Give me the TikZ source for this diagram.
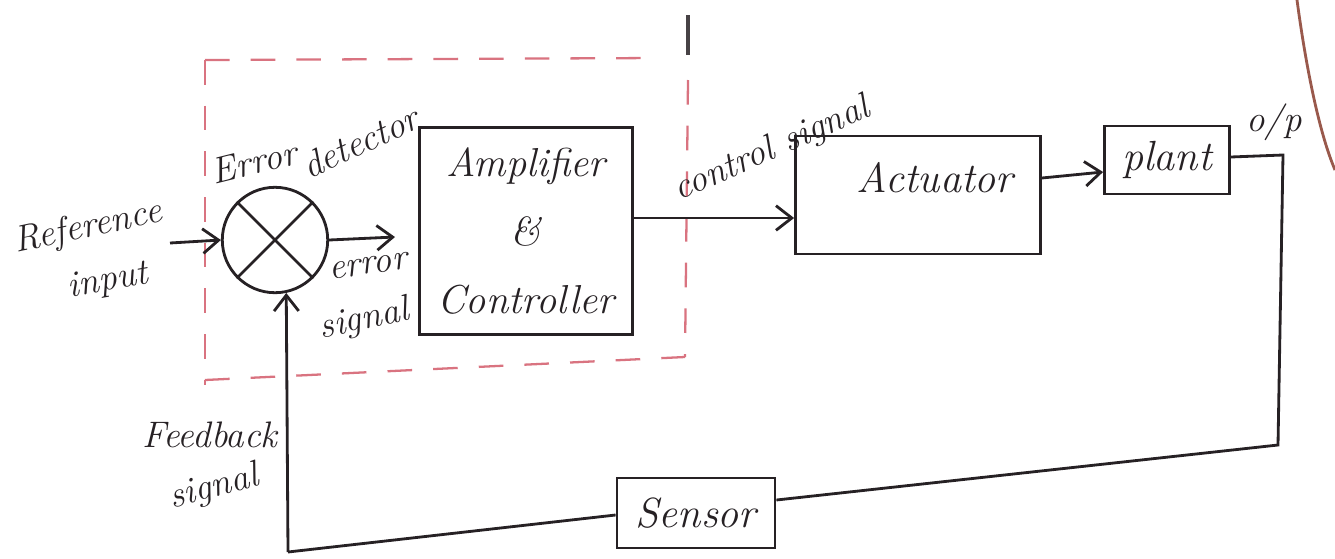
\documentclass[tikz,border=0pt]{standalone}
\usetikzlibrary{arrows.meta}
\definecolor{ink}{rgb}{0.15,0.13,0.14}
\definecolor{redink}{rgb}{0.85,0.45,0.5}
\definecolor{brownink}{rgb}{0.6,0.35,0.3}
\begin{document}
\begin{tikzpicture}[x=0.02cm,y=-0.02cm,
  ink/.style={draw=ink,line width=1.6pt},
  blk/.style={ink,rectangle,inner sep=0pt,font=\fontsize{23}{25}\selectfont\itshape,text=ink},
  blktext/.style={inner sep=0pt,font=\fontsize{24}{26}\selectfont\itshape,text=ink},
  lbl/.style={font=\fontsize{21}{23}\selectfont\itshape,text=ink,inner sep=1pt},
  arr/.style={ink,-{Straight Barb[length=9pt,width=14pt]}},
  dashbox/.style={draw=redink,line width=1.3pt,dash pattern=on 14pt off 12pt}]
\useasboundingbox (0,0) rectangle (1335,558);
% dashed error-detector / controller region
\draw[dashbox] (205,60) -- (660,58);
\draw[dashbox] (205,60) -- (205,385);
\draw[dashbox] (205,380) -- (685,357);
\draw[dashbox] (688,80) -- (685,357);
\draw[draw=ink!85,line width=1.8pt] (688,15) -- (688,55);
% summing junction
\node[ink,circle,minimum size=60pt,inner sep=0pt] (sum) at (275,240) {};
\draw[ink] (sum.north west) -- (sum.south east);
\draw[ink] (sum.north east) -- (sum.south west);
% blocks
\node[blk,minimum width=213*0.02cm,minimum height=207*0.02cm,align=center] (amp) at (526,231) {Amplifier\\[14pt]\&\\[14pt]Controller};
\node[blk,minimum width=245*0.02cm,minimum height=118*0.02cm] (act) at (918,195) {};
\node[blktext,anchor=north] at (935,162) {Actuator};
\node[blk,font=\fontsize{24}{26}\selectfont\itshape,minimum width=125*0.02cm,minimum height=68*0.02cm] (plant) at (1167,160) {plant};
\node[blk,font=\fontsize{24}{26}\selectfont\itshape,minimum width=158*0.02cm,minimum height=70*0.02cm] (sensor) at (696,513) {Sensor};
% coordinates
\coordinate (refin) at (170,243);
\coordinate (errend) at (395,237);
\coordinate (out) at (1283,155);
\coordinate (outdown) at (1278,445);
\coordinate (fbcorner) at (288,552);
% connectors
\draw[arr] (refin) -- (sum.west);
\draw[arr] (sum.east) -- (errend);
\draw[arr] (amp.east |- 0,218) -- (act.west |- 0,218);
\draw[arr] (act.east |- 0,178) -- (plant.west |- 0,172);
\draw[ink] (plant.east |- 0,157) -- (out) -- (outdown) -- (sensor.east |- 0,500);
\draw[ink] (sensor.west |- 0,515) -- (fbcorner);
\draw[arr] (fbcorner) -- (sum.-78);
% stray curve at right
\draw[draw=brownink,line width=1.6pt] (1297,0) .. controls (1305,60) and (1318,130) .. (1335,170);
% labels
\node[lbl,rotate=12] at (88,228) {Reference};
\node[lbl,rotate=10] at (108,282) {input};
\node[lbl,rotate=14] at (254,162) {Error};
\node[lbl,rotate=25] at (360,142) {detector};
\node[lbl,rotate=8] at (368,266) {error};
\node[lbl,rotate=12] at (364,320) {signal};
\node[lbl,rotate=24] at (772,150) {control signal};
\node[lbl] at (1274,122) {o/p};
\node[lbl] at (210,435) {Feedback};
\node[lbl,rotate=15] at (214,488) {signal};
\end{tikzpicture}
\end{document}
